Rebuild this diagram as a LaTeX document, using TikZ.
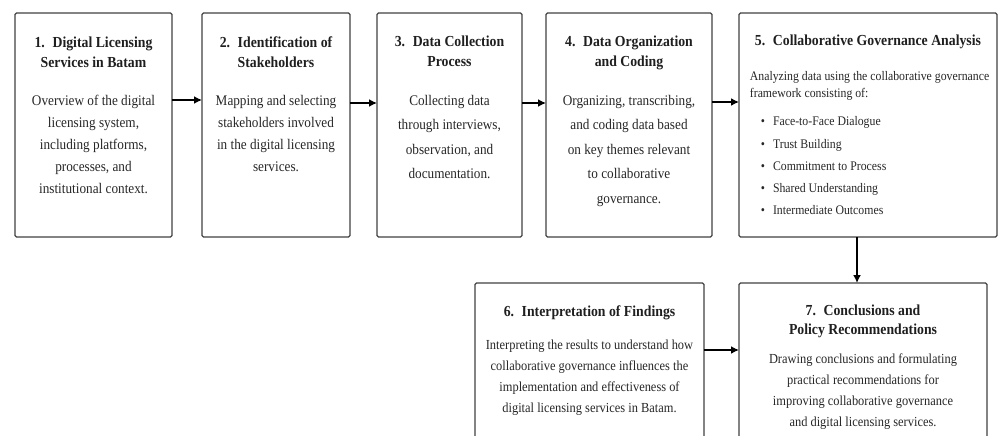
\documentclass[tikz,border=0pt]{standalone}
\usepackage{fontspec}
\setmainfont{Liberation Serif}[FakeStretch=0.9]
\usetikzlibrary{positioning,arrows.meta}

\begin{document}
\begin{tikzpicture}[->,>={Latex[length=8pt,width=8pt]},x=1pt,y=-1pt,line width=1.8pt,
  step box/.style={draw=black!75,line width=1.3pt,rounded corners=1.5pt,inner sep=0pt,outer sep=0pt,minimum height=224pt},
  head/.style={align=center,inner sep=0pt,text=black!88,font=\fontsize{15.3}{19.5}\selectfont\bfseries},
  body/.style={align=center,inner sep=0pt,text=black!85,font=\fontsize{14.7}{#1}\selectfont},
  body/.default=22,
  small body/.style={align=#1,inner sep=0pt,text=black!85,font=\fontsize{13.1}{17}\selectfont},
  small body/.default=left]

  \useasboundingbox (0,0) rectangle (998,436);
  \clip (0,0) rectangle (998,436);

  % top row
  \node[step box,minimum width=157pt,anchor=north west] (b1) at (15,13) {};
  \node[step box,minimum width=148pt] (b2) [right=30pt of b1] {};
  \node[step box,minimum width=145pt] (b3) [right=27pt of b2] {};
  \node[step box,minimum width=166pt] (b4) [right=24pt of b3] {};
  \node[step box,minimum width=258pt] (b5) [right=27pt of b4] {};
  % bottom row (runs off the page)
  \node[step box,minimum width=229pt,anchor=north west] (b6) at (475,283) {};
  \node[step box,minimum width=248pt] (b7) [right=35pt of b6] {};

  \node[head] (h1) [below=23pt of b1.north] {1.\enspace Digital Licensing\\Services in Batam};
  \node[body] (t1) [below=81pt of b1.north] {Overview of the digital\\licensing system,\\including platforms,\\processes, and\\institutional context.};

  \node[head] (h2) [below=23pt of b2.north] {2.\enspace Identification of\\Stakeholders};
  \node[body] (t2) [below=81pt of b2.north] {Mapping and selecting\\stakeholders involved\\in the digital licensing\\services.};

  \node[head] (h3) [below=22pt of b3.north] {3.\enspace Data Collection\\Process};
  \node[body=24.5] (t3) [below=81pt of b3.north] {Collecting data\\through interviews,\\observation, and\\documentation.};

  \node[head] (h4) [below=22pt of b4.north] {4.\enspace Data Organization\\and Coding};
  \node[body=24.5] (t4) [below=81pt of b4.north] {Organizing, transcribing,\\and coding data based\\on key themes relevant\\to collaborative\\governance.};

  \node[head] (h5) [below=21pt of b5.north] {5.\enspace Collaborative Governance Analysis};
  \node[small body] (t5) [below right=58pt and 10pt of b5.north west] {Analyzing data using the collaborative governance\\framework consisting of:};
  \node[small body,font=\fontsize{13.1}{22.2}\selectfont] (l5) [below right=103pt and 21pt of b5.north west]
    {\textbullet\hspace{8pt}Face-to-Face Dialogue\\
     \textbullet\hspace{8pt}Trust Building\\
     \textbullet\hspace{8pt}Commitment to Process\\
     \textbullet\hspace{8pt}Shared Understanding\\
     \textbullet\hspace{8pt}Intermediate Outcomes};

  \node[head] (h6) [below=21.5pt of b6.north] {6.\enspace Interpretation of Findings};
  \node[small body=center,font=\fontsize{13.8}{21}\selectfont] (t6) [below=56.5pt of b6.north] {Interpreting the results to understand how\\collaborative governance influences the\\implementation and effectiveness of\\digital licensing services in Batam.};

  \node[head] (h7) [below=20.5pt of b7.north] {7.\enspace Conclusions and\\Policy Recommendations};
  \node[small body=center,font=\fontsize{13.8}{21}\selectfont] (t7) [below=69.5pt of b7.north] {Drawing conclusions and formulating\\practical recommendations for\\improving collaborative governance\\and digital licensing services.};

  \path
    ([yshift=25pt]b1.east) edge ([yshift=25pt]b2.west)
    ([yshift=22pt]b2.east) edge ([yshift=22pt]b3.west)
    ([yshift=22pt]b3.east) edge ([yshift=22pt]b4.west)
    ([yshift=23pt]b4.east) edge ([yshift=23pt]b5.west)
    ([xshift=-11pt]b5.south) edge ([xshift=-11pt]b5.south |- b7.north)
    ([yshift=-67pt]b6.north east) edge ([yshift=-67pt]b7.north west);
\end{tikzpicture}
\end{document}
